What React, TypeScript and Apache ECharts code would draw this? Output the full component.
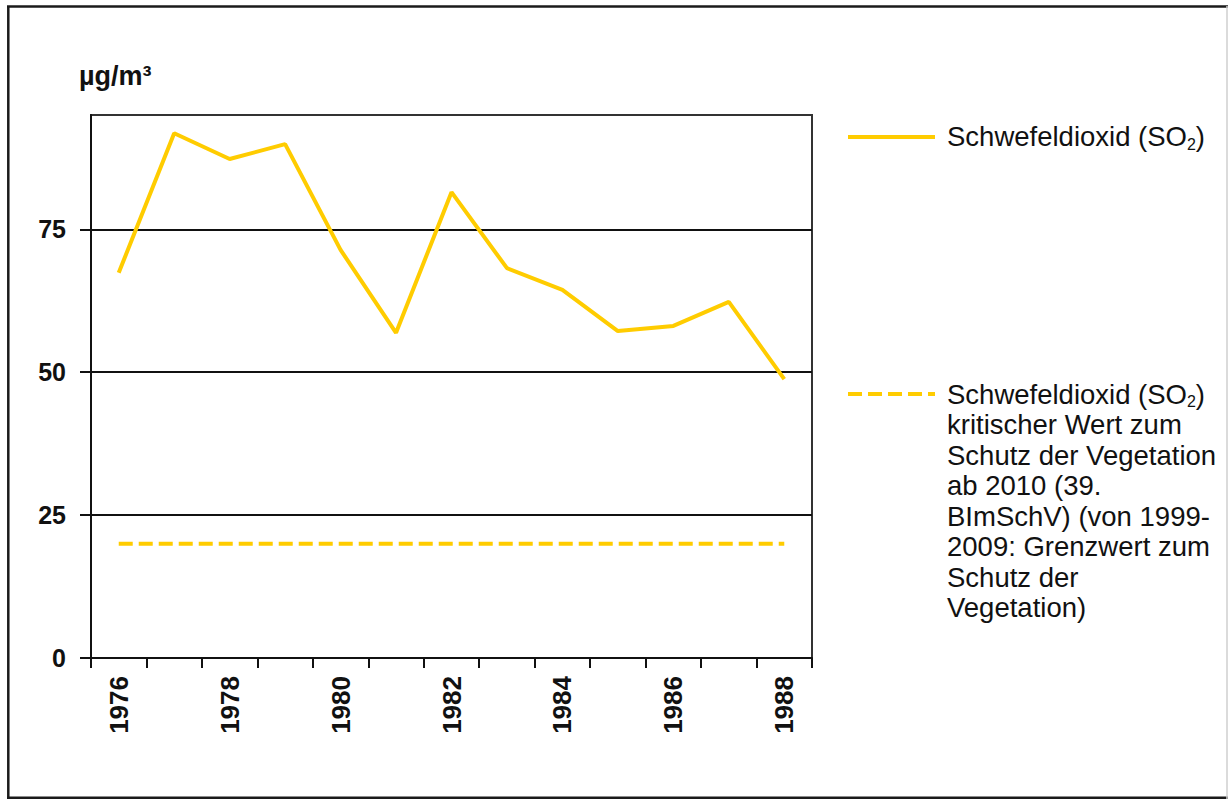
import React, { useEffect, useRef } from "react";
import * as echarts from "echarts";

const years = ["1976", "1977", "1978", "1979", "1980", "1981", "1982", "1983", "1984", "1985", "1986", "1987", "1988"];
const so2Values = [67.4, 91.8, 87.3, 89.9, 71.4, 56.9, 81.5, 68.2, 64.4, 57.2, 58.1, 62.3, 48.8];
const criticalValues = [20, 20, 20, 20, 20, 20, 20, 20, 20, 20, 20, 20, 20];
const yTicks = [0, 25, 50, 75];
const unitLabel = "µg/m³";
const seriesName1 = "Schwefeldioxid (SO₂)";
const seriesName2 = "Schwefeldioxid (SO₂) kritischer Wert zum Schutz der Vegetation ab 2010 (39. BImSchV) (von 1999-2009: Grenzwert zum Schutz der Vegetation)";
const legend1Text = "Schwefeldioxid (SO{sub|2})";
const legend2Text = [
  "Schwefeldioxid (SO{sub|2})",
  "kritischer Wert zum",
  "Schutz der Vegetation",
  "ab 2010 (39.",
  "BImSchV) (von 1999-",
  "2009: Grenzwert zum",
  "Schutz der",
  "Vegetation)",
].join("\n");

const YELLOW = "#FFCC00";
const FONT = "'Liberation Sans', Arial, sans-serif";

export default function App() {
  const ref = useRef<HTMLDivElement>(null);
  useEffect(() => {
    if (!ref.current) return;
    const chart = echarts.init(ref.current, undefined, { renderer: "svg" });
    const rich = {
      sub: { fontSize: 16, lineHeight: 16, padding: [15, 0, 0, 0], fontFamily: FONT, fill: "#111" },
    };
    chart.setOption({
      animation: false,
      backgroundColor: "#fff",
      textStyle: { fontFamily: FONT },
      grid: {
        left: 91,
        right: 416,
        top: 115,
        bottom: 141,
        show: true,
        borderColor: "#333",
        borderWidth: 2,
        outerBoundsMode: "none",
      },
      xAxis: {
        type: "category",
        data: years,
        boundaryGap: true,
        axisLine: { lineStyle: { color: "#111", width: 2 } },
        axisTick: { show: true, interval: 0, length: 10, lineStyle: { color: "#111", width: 2 } },
        axisLabel: {
          interval: 1,
          rotate: 90,
          margin: 18,
          fontSize: 26,
          fontWeight: "bold",
          color: "#111",
          fontFamily: FONT,
        },
        splitLine: { show: false },
      },
      yAxis: {
        type: "value",
        min: 0,
        max: 95,
        interval: 25,
        axisLine: { show: true, lineStyle: { color: "#111", width: 2 } },
        axisTick: { show: true, length: 11, customValues: yTicks, lineStyle: { color: "#111", width: 2 } },
        axisLabel: {
          customValues: yTicks,
          margin: 25,
          fontSize: 25,
          fontWeight: "bold",
          color: "#111",
          fontFamily: FONT,
        },
        splitLine: { show: true, lineStyle: { color: "#111", width: 2 } },
      },
      series: [
        {
          name: seriesName1,
          type: "line",
          data: so2Values,
          symbol: "none",
          lineStyle: { color: YELLOW, width: 4 },
          itemStyle: { color: YELLOW },
          z: 5,
        },
        {
          name: seriesName2,
          type: "line",
          data: criticalValues,
          symbol: "none",
          lineStyle: { color: YELLOW, width: 4, type: [14, 6] },
          itemStyle: { color: YELLOW },
          z: 5,
        },
      ],
      graphic: [
        { type: "line", shape: { x1: 7, y1: 6.5, x2: 1228, y2: 6.5 }, style: { stroke: "#1a1a1a", lineWidth: 2.5 } },
        { type: "line", shape: { x1: 8.3, y1: 6, x2: 8.3, y2: 799 }, style: { stroke: "#1a1a1a", lineWidth: 2.5 } },
        { type: "line", shape: { x1: 7, y1: 797.8, x2: 1228, y2: 797.8 }, style: { stroke: "#1a1a1a", lineWidth: 2.5 } },
        { type: "line", shape: { x1: 1227, y1: 6, x2: 1227, y2: 799 }, style: { stroke: "#cfcfcf", lineWidth: 1.5 } },
        {
          type: "text",
          x: 79,
          y: 76,
          style: {
            text: unitLabel,
            fontSize: 27,
            fontWeight: "bold",
            fontFamily: FONT,
            fill: "#111",
            verticalAlign: "middle",
            align: "left",
          },
        },
        { type: "line", shape: { x1: 848, y1: 137, x2: 935, y2: 137 }, style: { stroke: YELLOW, lineWidth: 4 } },
        {
          type: "text",
          x: 947,
          y: 121.5,
          style: {
            text: legend1Text,
            rich,
            fontSize: 27.5,
            lineHeight: 30.5,
            fontFamily: FONT,
            fill: "#111",
            verticalAlign: "top",
            align: "left",
          },
        },
        {
          type: "line",
          shape: { x1: 848, y1: 394, x2: 935, y2: 394 },
          style: { stroke: YELLOW, lineWidth: 4, lineDash: [14, 6] },
        },
        {
          type: "text",
          x: 947,
          y: 379,
          style: {
            text: legend2Text,
            rich,
            fontSize: 27.5,
            lineHeight: 30.5,
            fontFamily: FONT,
            fill: "#111",
            verticalAlign: "top",
            align: "left",
          },
        },
      ],
    });
    return () => chart.dispose();
  }, []);
  return <div ref={ref} style={{ position: "absolute", left: 0, top: 0, width: 1228, height: 799 }} />;
}
